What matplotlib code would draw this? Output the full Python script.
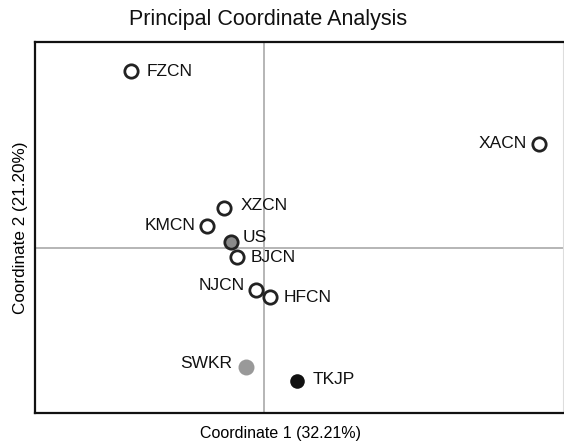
import matplotlib
matplotlib.use("Agg")
import matplotlib.pyplot as plt

plt.rcParams['font.family'] = ['Liberation Sans', 'DejaVu Sans']

names = ["FZCN", "XACN", "XZCN", "KMCN", "US", "BJCN", "NJCN", "HFCN", "SWKR", "TKJP"]
coord1 = [-0.266, 0.550, -0.080, -0.114, -0.066, -0.054, -0.016, 0.012, -0.036, 0.066]
coord2 = [0.354, 0.208, 0.080, 0.044, 0.012, -0.018, -0.084, -0.098, -0.238, -0.266]
facecolors = ["white", "white", "white", "white", "#8a8a8a", "white", "white", "white", "#999999", "#111111"]
edgecolors = ["#222222"] * 8 + ["#999999", "#111111"]
# label offsets in pixels (dx, dy) and alignment
label_dx = [16, -12, 17, -11, 12, 14, -11, 14, -14, 16]
label_dy = [0, 0, 2, 0, 5, 0, 4, -1, 4, 1]
label_ha = ["left", "right", "left", "right", "left", "left", "right", "left", "right", "left"]

fig = plt.figure(figsize=(5.64, 4.43), dpi=100)
ax = fig.add_axes([35/564, 30/443, 528/564, 371/443])

ax.axhline(0, color="#b0b0b0", lw=1.3, zorder=1)
ax.axvline(0, color="#b0b0b0", lw=1.3, zorder=1)

for i, n in enumerate(names):
    ms = 11.5 if n == "SWKR" else (10.5 if n == "TKJP" else 9.6)
    mew = 0 if n in ("SWKR", "TKJP") else 2.0
    ax.plot(coord1[i], coord2[i], "o", ms=ms, mfc=facecolors[i], mec=edgecolors[i],
            mew=mew, zorder=3)
    ax.annotate(n, (coord1[i], coord2[i]), xytext=(label_dx[i]*0.72, label_dy[i]*0.72),
                textcoords="offset points", ha=label_ha[i], va="center",
                fontsize=12.5, color="#111111")

ax.set_xlim(-0.458, 0.598)
ax.set_ylim(-0.33, 0.412)
ax.set_xticks([])
ax.set_yticks([])
for s in ("left", "bottom", "top"):
    ax.spines[s].set_linewidth(1.6)
    ax.spines[s].set_color("#111111")
ax.spines["right"].set_color("#dddddd")
ax.spines["right"].set_linewidth(0.8)

fig.text(268/564, 1 - 19/443, "Principal Coordinate Analysis", fontsize=15.5,
         ha="center", va="center", color="#111111")
ax.set_xlabel("Coordinate 1 (32.21%)", fontsize=11.5, labelpad=8)
ax.xaxis.set_label_coords((280 - 35)/528, -0.035, transform=ax.transAxes)
ax.xaxis.label.set_va("top")
ax.set_ylabel("Coordinate 2 (21.20%)", fontsize=12.3, labelpad=5)

fig.savefig("out.png", dpi=100)
